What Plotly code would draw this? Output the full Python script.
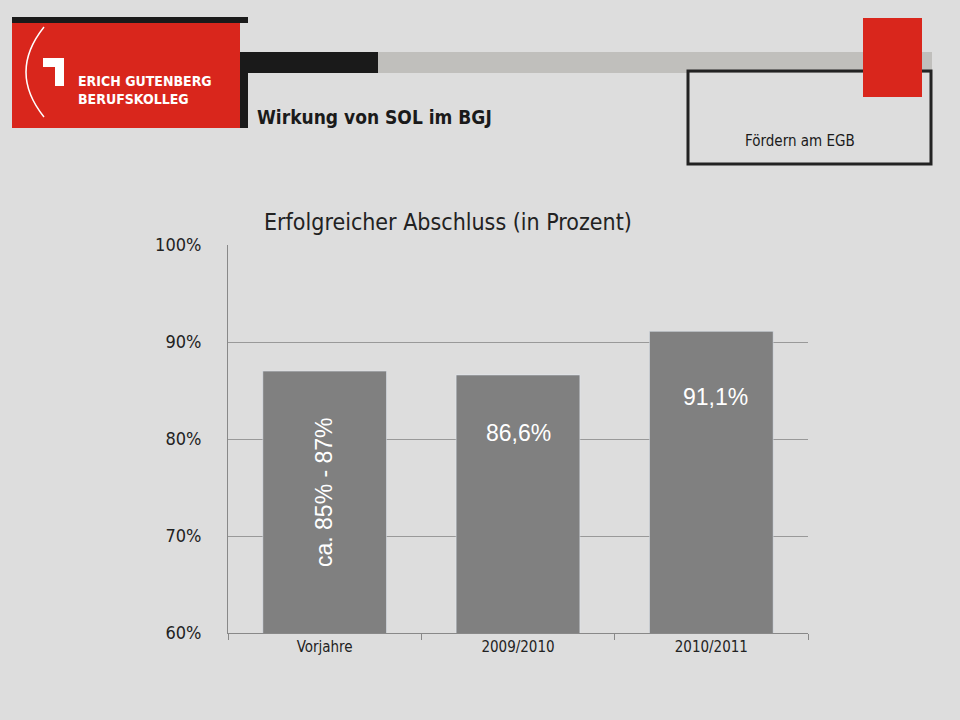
import plotly.graph_objects as go

categories = ["Vorjahre", "2009/2010", "2010/2011"]
values = [87.0, 86.6, 91.1]
labels = ["ca. 85% - 87%", "86,6%", "91,1%"]
tick_vals = [60, 70, 80, 90, 100]
tick_text = ["60%", "70%", "80%", "90%", "100%"]

W, H = 960, 720
PL, PR, PT, PB = 228, 808, 245, 633
def px(x): return (x - PL) / (PR - PL)
def py(y): return (PB - y) / (PB - PT)

fig = go.Figure()
fig.add_trace(go.Bar(x=categories, y=values, marker_color="#808080", width=0.64,
                     hoverinfo="skip"))

lf = dict(family="Liberation Sans", size=23, color="white")
fig.add_annotation(x=categories[0], y=74.5, text=labels[0], textangle=-90, showarrow=False, font=lf)
fig.add_annotation(x=categories[1], y=80.6, text=labels[1], showarrow=False, font=lf)
fig.add_annotation(x=categories[2], y=84.3, text=labels[2], showarrow=False, font=lf, xshift=4)

shapes = []
def rect(x0, y0, x1, y1, fill, line=None, lw=0):
    shapes.append(dict(type="rect", xref="paper", yref="paper",
                       x0=px(x0), x1=px(x1), y0=py(y1), y1=py(y0),
                       fillcolor=fill, line=dict(color=line or fill, width=lw), layer="below"))

rect(12, 17, 248, 23, "#1a1a1a")
rect(237, 52, 378, 73, "#1a1a1a")
rect(378, 52, 932, 73, "#c0bfbc")
rect(240, 52, 248, 128, "#1a1a1a")
rect(12, 23, 240, 128, "#d9261c")
rect(688, 71, 931, 164, "rgba(0,0,0,0)", "#222222", 3)
rect(863, 18, 922, 97, "#d9261c")
shapes.append(dict(type="path", xref="paper", yref="paper",
                   path=f"M {px(44)},{py(27)} Q {px(8)},{py(72)} {px(44)},{py(117)}",
                   line=dict(color="white", width=1.5)))
rect(43, 58, 64, 67, "white")
rect(55, 58, 64, 86, "white")
fig.add_annotation(xref="paper", yref="paper", x=px(76), y=py(71), xanchor="left", align="left",
                   text="<b>ERICH GUTENBERG<br>BERUFSKOLLEG</b>", showarrow=False,
                   font=dict(family="DejaVu Sans Condensed", size=14, color="white"))
fig.add_annotation(xref="paper", yref="paper", x=px(255), y=py(104), xanchor="left",
                   text="<b>Wirkung von SOL im BGJ</b>", showarrow=False,
                   font=dict(family="DejaVu Sans Condensed", size=19, color="#1a1a1a"))
fig.add_annotation(xref="paper", yref="paper", x=px(800), y=py(130), xanchor="center",
                   text="Fördern am EGB", showarrow=False,
                   font=dict(family="DejaVu Sans Condensed", size=15, color="#1a1a1a"))
fig.add_annotation(xref="paper", yref="paper", x=px(448), y=py(207), xanchor="center",
                   text="Erfolgreicher Abschluss (in Prozent)", showarrow=False,
                   font=dict(family="DejaVu Sans Condensed", size=23, color="#222222"))

fig.update_layout(
    width=W, height=H, paper_bgcolor="#dddddd", plot_bgcolor="#dddddd",
    margin=dict(l=PL, r=W-PR, t=PT, b=H-PB), showlegend=False,
    shapes=shapes,
    xaxis=dict(showline=True, linecolor="#888888", ticks="outside", tickson="boundaries",
               ticklen=6, tickcolor="#888888",
               tickfont=dict(family="DejaVu Sans Condensed", size=15, color="#222222")),
    yaxis=dict(range=[60, 100], tickvals=tick_vals, ticktext=tick_text, showline=True,
               linecolor="#888888", gridcolor="#999999", ticks="", ticklabelstandoff=22,
               tickfont=dict(family="DejaVu Sans Condensed", size=18, color="#222222")),
)
fig.write_html("out.html", config={"displayModeBar": False},
               post_script="document.body.style.margin='0';document.body.style.background='#dddddd';")
